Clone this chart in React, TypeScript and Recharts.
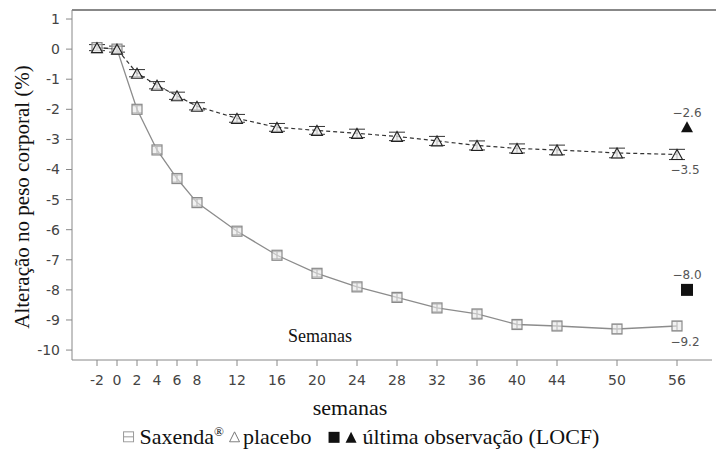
import React from 'react'
import { ComposedChart, Line, Scatter, XAxis, YAxis, ErrorBar, LabelList } from 'recharts'

const weeks = [-2, 0, 2, 4, 6, 8, 12, 16, 20, 24, 28, 32, 36, 40, 44, 50, 56]
const saxenda = [0.05, 0, -2.0, -3.35, -4.3, -5.1, -6.05, -6.85, -7.45, -7.9, -8.25, -8.6, -8.8, -9.15, -9.2, -9.3, -9.2]
const placebo = [0.05, 0, -0.8, -1.2, -1.55, -1.9, -2.3, -2.6, -2.7, -2.8, -2.9, -3.05, -3.2, -3.3, -3.35, -3.45, -3.5]
const saxendaErr = [0.1, 0.1, 0.12, 0.12, 0.12, 0.12, 0.12, 0.12, 0.12, 0.13, 0.13, 0.13, 0.14, 0.14, 0.14, 0.15, 0.15]
const placeboErr = [0.1, 0.1, 0.12, 0.12, 0.12, 0.12, 0.13, 0.13, 0.13, 0.14, 0.14, 0.15, 0.15, 0.15, 0.16, 0.16, 0.17]
const locfWeek = 57
const saxendaLocf = -8.0
const placeboLocf = -2.6
const xTicks = [-2, 0, 2, 4, 6, 8, 12, 16, 20, 24, 28, 32, 36, 40, 44, 50, 56]
const yTicks = [1, 0, -1, -2, -3, -4, -5, -6, -7, -8, -9, -10]

const chartData = weeks.map((w, i) => ({
  week: w,
  sax: saxenda[i],
  pla: placebo[i],
  saxErr: saxendaErr[i],
  plaErr: placeboErr[i],
}))

const fmt = (v: number) => v.toFixed(1).replace('-', '\u2212')

const SquareDot = (props: any) => {
  const { cx, cy } = props
  if (cx == null || cy == null) return null
  return <rect x={cx - 5} y={cy - 5} width={10} height={10} fill="#e8e8e8" fillOpacity={0.6} stroke="#8a8a8a" strokeWidth={1.2} />
}

const TriDot = (props: any) => {
  const { cx, cy } = props
  if (cx == null || cy == null) return null
  return (
    <polygon
      points={`${cx},${cy - 5} ${cx - 5.5},${cy + 5} ${cx + 5.5},${cy + 5}`}
      fill="#eeeeee"
      fillOpacity={0.7}
      stroke="#222"
      strokeWidth={1.1}
    />
  )
}

const LocfSquare = (props: any) => {
  const { cx, cy, payload } = props
  return (
    <g>
      <rect x={cx - 6} y={cy - 6} width={12} height={12} fill="#111" />
      <text x={cx} y={cy - 11} textAnchor="middle" fontSize={12} fill="#555" fontFamily="DejaVu Sans">{fmt(payload.locf)}</text>
    </g>
  )
}

const LocfTri = (props: any) => {
  const { cx, cy, payload } = props
  return (
    <g>
      <polygon points={`${cx},${cy - 6} ${cx - 6},${cy + 5} ${cx + 6},${cy + 5}`} fill="#111" />
      <text x={cx} y={cy - 10} textAnchor="middle" fontSize={12} fill="#555" fontFamily="DejaVu Sans">{fmt(payload.locf)}</text>
    </g>
  )
}

const lastLabel = (props: any) => {
  const { x, y, value, index } = props
  if (index !== weeks.length - 1) return null
  return (
    <text x={x + 8} y={y + 20} textAnchor="middle" fontSize={12} fill="#555" fontFamily="DejaVu Sans">{fmt(value)}</text>
  )
}

const tickStyle = { fontSize: 14, fill: '#444', fontFamily: 'DejaVu Sans' }
const serif = "'Liberation Serif', 'Times New Roman', serif"

export default function App() {
  return (
    <div style={{ position: 'absolute', left: 0, top: 0, width: 716, height: 451, background: '#fff' }}>
      <ComposedChart
        width={716}
        height={451}
        data={chartData}
        margin={{ top: 10, right: 4, left: 12, bottom: 61 }}
      >
        <XAxis
          dataKey="week"
          type="number"
          domain={[-4.5, 59.5]}
          ticks={xTicks}
          interval={0}
          height={30}
          tick={tickStyle}
          tickSize={6}
          tickMargin={9}
          stroke="#888"
          allowDataOverflow
        />
        <YAxis
          type="number"
          domain={[-10.33, 1.3]}
          ticks={yTicks}
          interval={0}
          width={60}
          tick={tickStyle}
          tickSize={6}
          tickMargin={6}
          stroke="#888"
          allowDataOverflow
        />
        <Line
          dataKey="sax"
          stroke="#8c8c8c"
          strokeWidth={1.3}
          dot={<SquareDot />}
          activeDot={false}
          isAnimationActive={false}
        >
          <ErrorBar dataKey="saxErr" width={5} stroke="#666" strokeWidth={1} />
          <LabelList dataKey="sax" content={lastLabel} />
        </Line>
        <Line
          dataKey="pla"
          stroke="#333"
          strokeWidth={1.2}
          strokeDasharray="4 3"
          dot={<TriDot />}
          activeDot={false}
          isAnimationActive={false}
        >
          <ErrorBar dataKey="plaErr" width={8} stroke="#333" strokeWidth={1} />
          <LabelList dataKey="pla" content={lastLabel} />
        </Line>
        <Scatter data={[{ week: locfWeek, locf: saxendaLocf }]} dataKey="locf" shape={<LocfSquare />} isAnimationActive={false} />
        <Scatter data={[{ week: locfWeek, locf: placeboLocf }]} dataKey="locf" shape={<LocfTri />} isAnimationActive={false} />
      </ComposedChart>

      {/* top frame line */}
      <div style={{ position: 'absolute', left: 72, top: 9, width: 644, height: 2, background: '#888', zIndex: 10 }} />

      <div style={{ position: 'absolute', left: 320, top: 336, transform: 'translate(-50%, -50%)', fontFamily: serif, fontSize: 18, color: '#111', whiteSpace: 'nowrap' }}>
        Semanas
      </div>
      <div
        style={{
          position: 'absolute', left: 22, top: 197, transform: 'translate(-50%, -50%) rotate(-90deg)',
          fontFamily: serif, fontSize: 21, color: '#111', whiteSpace: 'nowrap',
        }}
      >
        Alteração no peso corporal (%)
      </div>
      <div style={{ position: 'absolute', left: 350, top: 408, transform: 'translate(-50%, -50%)', fontFamily: serif, fontSize: 22, color: '#111', whiteSpace: 'nowrap' }}>
        semanas
      </div>
      <div
        style={{
          position: 'absolute', left: 361, top: 437, transform: 'translate(-50%, -50%)',
          fontFamily: serif, fontSize: 22, color: '#111', whiteSpace: 'nowrap', display: 'flex', alignItems: 'center',
        }}
      >
        <svg width={12} height={12} style={{ marginRight: 5 }}>
          <rect x={1} y={1} width={10} height={10} fill="none" stroke="#999" strokeWidth={1} />
          <line x1={1} y1={6} x2={11} y2={6} stroke="#999" strokeWidth={1} />
        </svg>
        <span>Saxenda<sup style={{ fontSize: 13 }}>®</sup></span>
        <svg width={12} height={12} style={{ marginLeft: 5, marginRight: 2 }}>
          <polygon points="6,1 1,11 11,11" fill="none" stroke="#777" strokeWidth={1} />
        </svg>
        <span>placebo</span>
        <svg width={13} height={13} style={{ marginLeft: 16, marginRight: 4 }}>
          <rect x={1} y={1} width={11} height={11} fill="#111" />
        </svg>
        <svg width={13} height={13} style={{ marginRight: 5 }}>
          <polygon points="6.5,1 1,12 12,12" fill="#111" />
        </svg>
        <span>última observação (LOCF)</span>
      </div>
    </div>
  )
}
